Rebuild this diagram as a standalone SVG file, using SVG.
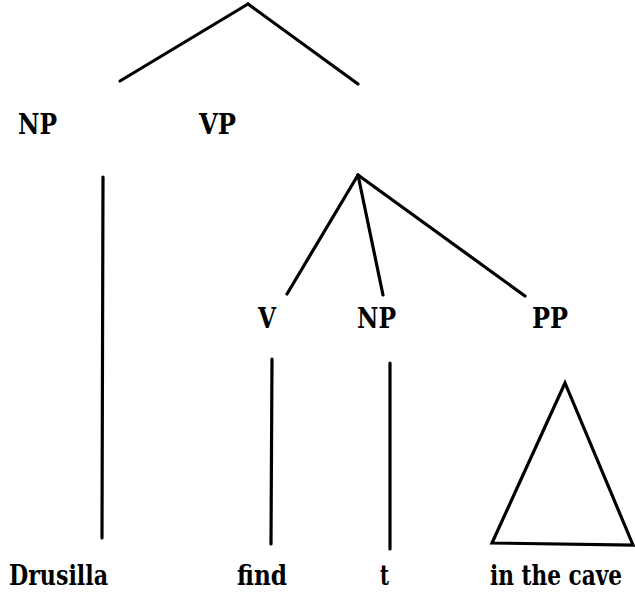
<svg xmlns="http://www.w3.org/2000/svg" width="635" height="598" viewBox="0 0 635 598">
<style>
  text { font-family: 'DejaVu Serif Condensed', 'DejaVu Serif', serif; font-weight: 700; font-size: 28px; fill: #000; }
  .edge { stroke: #000; stroke-width: 3.2; fill: none; stroke-linecap: round; stroke-linejoin: miter; }
</style>
<rect width="635" height="598" fill="#fff"/>
<g id="connectors">
  <line class="edge" x1="248" y1="4" x2="120" y2="81"/>
  <line class="edge" x1="248" y1="4" x2="358" y2="84"/>
  <line class="edge" x1="103" y1="177" x2="102" y2="538"/>
  <line class="edge" x1="358" y1="175" x2="287" y2="294"/>
  <line class="edge" x1="358" y1="175" x2="383" y2="295"/>
  <line class="edge" x1="358" y1="175" x2="525" y2="296"/>
  <line class="edge" x1="272" y1="359" x2="271" y2="544"/>
  <line class="edge" x1="390" y1="363" x2="390" y2="549"/>
  <polygon class="edge" points="565,383 492,543 633,545"/>
</g>
<g id="np-subject"><text x="18" y="134" textLength="39" lengthAdjust="spacingAndGlyphs">NP</text></g>
<g id="vp"><text x="199" y="134" textLength="37" lengthAdjust="spacingAndGlyphs">VP</text></g>
<g id="v"><text x="258" y="328" textLength="18" lengthAdjust="spacingAndGlyphs">V</text></g>
<g id="np-object"><text x="357" y="328" textLength="39" lengthAdjust="spacingAndGlyphs">NP</text></g>
<g id="pp"><text x="532" y="328" textLength="36" lengthAdjust="spacingAndGlyphs">PP</text></g>
<g id="drusilla"><text x="9" y="585" textLength="99" lengthAdjust="spacingAndGlyphs">Drusilla</text></g>
<g id="find"><text x="237" y="585" textLength="50" lengthAdjust="spacingAndGlyphs">find</text></g>
<g id="trace"><text x="380" y="585" textLength="9" lengthAdjust="spacingAndGlyphs">t</text></g>
<g id="in-the-cave"><text x="490" y="585" textLength="132" lengthAdjust="spacingAndGlyphs">in the cave</text></g>
</svg>
